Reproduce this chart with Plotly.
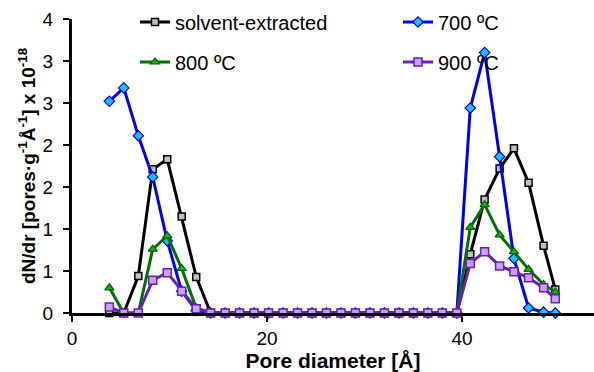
import plotly.graph_objects as go

pore_diameter = [3.83, 5.31, 6.80, 8.28, 9.77, 11.25, 12.74, 14.22, 15.71, 17.19,
                 18.68, 20.16, 21.65, 23.13, 24.62, 26.10, 27.59, 29.07, 30.56, 32.04,
                 33.53, 35.01, 36.50, 37.98, 39.47, 40.85, 42.32, 43.86, 45.33, 46.83,
                 48.37, 49.57]

solvent_extracted = [0, 0, 0.44, 1.71, 1.83, 1.15, 0.43, 0,
                     0, 0, 0, 0, 0, 0, 0, 0, 0, 0, 0, 0, 0, 0, 0, 0, 0,
                     0.70, 1.35, 1.72, 1.96, 1.55, 0.80, 0.28]
t700 = [2.52, 2.68, 2.11, 1.62, 0.86, 0.26, 0.03, 0,
        0, 0, 0, 0, 0, 0, 0, 0, 0, 0, 0, 0, 0, 0, 0, 0, 0,
        2.44, 3.10, 1.86, 0.65, 0.06, 0.01, 0]
t800 = [0.30, 0, 0, 0.76, 0.92, 0.53, 0.06, 0,
        0, 0, 0, 0, 0, 0, 0, 0, 0, 0, 0, 0, 0, 0, 0, 0, 0,
        1.02, 1.29, 0.93, 0.73, 0.52, 0.34, 0.25]
t900 = [0.07, 0, 0, 0.39, 0.48, 0.26, 0.05, 0,
        0, 0, 0, 0, 0, 0, 0, 0, 0, 0, 0, 0, 0, 0, 0, 0, 0,
        0.59, 0.73, 0.56, 0.49, 0.42, 0.30, 0.17]

series_names = ["solvent-extracted", "700 ºC", "800 ºC", "900 ºC"]
y_tickvals = [0, 0.5, 1, 1.5, 2, 2.5, 3, 3.5]
y_ticktext = ["0", "1", "1", "2", "2", "3", "3", "4"]
x_tickvals = [0, 20, 40]

FONT = "Arial, Liberation Sans, sans-serif"

fig = go.Figure()
styles = [
    dict(line=dict(color="#000000", width=3),
         marker=dict(symbol="square", size=7, color="#C0C0C0",
                     line=dict(color="#000000", width=1.5)), legend="legend"),
    dict(line=dict(color="#0000EE", width=3),
         marker=dict(symbol="diamond", size=8, color="#20C0F8",
                     line=dict(color="#0000EE", width=1.2)), legend="legend"),
    dict(line=dict(color="#007000", width=3),
         marker=dict(symbol="triangle-up", size=8, color="#10B010",
                     line=dict(color="#006000", width=1.2)), legend="legend2"),
    dict(line=dict(color="#6A1FB0", width=3),
         marker=dict(symbol="square", size=8, color="#C8A0F8",
                     line=dict(color="#6A1FB0", width=1.5)), legend="legend2"),
]
for name, ys, st in zip(series_names, [solvent_extracted, t700, t800, t900], styles):
    fig.add_trace(go.Scatter(x=pore_diameter, y=ys, name=name, mode="lines+markers",
                             line=st["line"], marker=st["marker"], legend=st["legend"],
                             cliponaxis=False))

# plot area in px: x 72..594, y 19..313
legend_common = dict(orientation="h", xref="paper", yref="paper",
                     xanchor="left", yanchor="middle", entrywidth=218,
                     font=dict(family=FONT, size=20, color="#000000"),
                     bgcolor="rgba(0,0,0,0)", borderwidth=0)

fig.update_layout(
    width=594, height=372,
    margin=dict(l=72, r=0, t=19, b=59, autoexpand=False),
    paper_bgcolor="white", plot_bgcolor="white",
    font=dict(family=FONT, size=19, color="#000000"),
    showlegend=True,
    legend=dict(x=(135 - 72) / 522, y=(313 - 22) / 294, **legend_common),
    legend2=dict(x=(135 - 72) / 522, y=(313 - 62) / 294, **legend_common),
    xaxis=dict(range=[0, 53.54], tickvals=x_tickvals, ticks="outside", ticklen=6,
               tickwidth=2, tickcolor="black", showline=True, linecolor="black",
               linewidth=3, showgrid=False, zeroline=False,
               tickfont=dict(family=FONT, size=19),
               title=dict(text="<b>Pore diameter [Å]</b>", font=dict(family=FONT, size=21),
                          standoff=3)),
    yaxis=dict(range=[0, 3.5], tickvals=y_tickvals, ticktext=y_ticktext,
               ticks="outside", ticklen=6, tickwidth=2, tickcolor="black",
               showline=True, linecolor="black", linewidth=3, showgrid=False,
               zeroline=False, tickfont=dict(family=FONT, size=19),
               ticklabelstandoff=6,
               title=dict(text="<b>dN/dr [pores·g<sup>-1</sup>Å<sup>-1</sup>] x 10<sup>-18</sup></b>",
                          font=dict(family=FONT, size=19), standoff=2)),
)

fig.write_html("out.html")
